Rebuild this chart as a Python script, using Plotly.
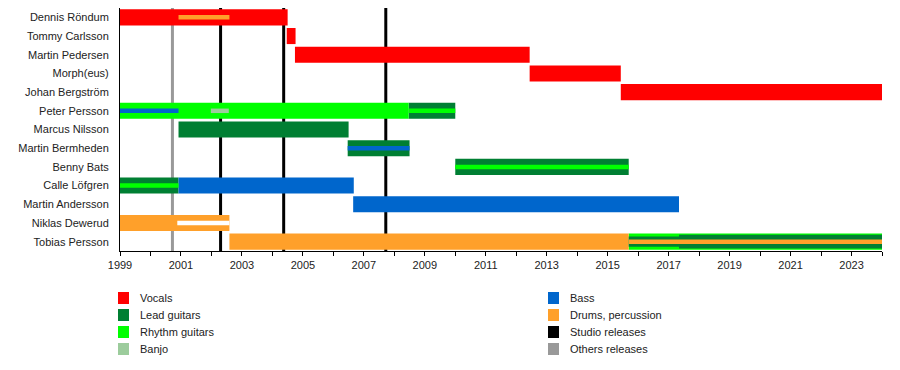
import plotly.graph_objects as go

# ---------------- data ----------------
members = [
    "Dennis Röndum", "Tommy Carlsson", "Martin Pedersen", "Morph(eus)",
    "Johan Bergström", "Peter Persson", "Marcus Nilsson", "Martin Bermheden",
    "Benny Bats", "Calle Löfgren", "Martin Andersson", "Niklas Dewerud",
    "Tobias Persson",
]

roles = ["Vocals", "Lead guitars", "Rhythm guitars", "Banjo", "Bass",
         "Drums, percussion", "Spacer"]

seg_member = [
    "Dennis Röndum", "Dennis Röndum",
    "Tommy Carlsson",
    "Martin Pedersen",
    "Morph(eus)",
    "Johan Bergström",
    "Peter Persson", "Peter Persson", "Peter Persson", "Peter Persson", "Peter Persson",
    "Marcus Nilsson",
    "Martin Bermheden", "Martin Bermheden",
    "Benny Bats", "Benny Bats",
    "Calle Löfgren", "Calle Löfgren", "Calle Löfgren",
    "Martin Andersson",
    "Niklas Dewerud", "Niklas Dewerud",
    "Tobias Persson", "Tobias Persson", "Tobias Persson", "Tobias Persson",
    "Tobias Persson", "Tobias Persson", "Tobias Persson",
]
seg_role = [
    "Vocals", "Drums, percussion",
    "Vocals",
    "Vocals",
    "Vocals",
    "Vocals",
    "Rhythm guitars", "Bass", "Banjo", "Lead guitars", "Rhythm guitars",
    "Lead guitars",
    "Lead guitars", "Bass",
    "Lead guitars", "Rhythm guitars",
    "Lead guitars", "Rhythm guitars", "Bass",
    "Bass",
    "Drums, percussion", "Spacer",
    "Drums, percussion", "Rhythm guitars", "Lead guitars", "Drums, percussion",
    "Rhythm guitars", "Lead guitars", "Drums, percussion",
]
seg_start = [
    1999.0, 2000.92,
    2004.47,
    2004.74,
    2012.44,
    2015.43,
    1999.0, 1999.0, 2001.98, 2008.47, 2008.47,
    2000.92,
    2006.47, 2006.47,
    2010.0, 2010.0,
    1999.0, 1999.0, 2000.92,
    2006.65,
    1999.0, 2000.88,
    2002.59, 2015.69, 2015.69, 2015.69,
    2017.34, 2017.34, 2017.34,
]
seg_end = [
    2004.5, 2002.59,
    2004.76,
    2012.44,
    2015.43,
    2024.0,
    2008.47, 2000.92, 2002.57, 2010.0, 2010.0,
    2006.5,
    2008.5, 2008.5,
    2015.69, 2015.69,
    2000.92, 2000.92, 2006.67,
    2017.34,
    2002.59, 2002.59,
    2015.69, 2017.34, 2017.34, 2017.34,
    2024.0, 2024.0, 2024.0,
]
# primary role = "main", secondary roles drawn inside the bar
seg_kind = [
    "main", "thin",
    "main",
    "main",
    "main",
    "main",
    "main", "thin", "thin", "main", "thin",
    "main",
    "main", "thin",
    "main", "thin",
    "main", "thin", "main",
    "main",
    "main", "thin",
    "main", "main", "mid", "thin",
    "main", "wide", "thin",
]

studio_releases = [2002.30, 2004.37, 2007.72]
other_releases = [2000.72]

year_ticks = list(range(1999, 2025))
year_labels = [str(y) if y % 2 == 1 else "" for y in year_ticks]

legend_left = ["Vocals", "Lead guitars", "Rhythm guitars", "Banjo"]
legend_right = ["Bass", "Drums, percussion", "Studio releases", "Others releases"]

# ---------------- styles ----------------
colors = {
    "Vocals": "#ff0000",
    "Lead guitars": "#007f33",
    "Rhythm guitars": "#00ff00",
    "Banjo": "#9ccc9c",
    "Bass": "#0066cc",
    "Drums, percussion": "#ffa02a",
    "Spacer": "#ffffff",
    "Studio releases": "#000000",
    "Others releases": "#999999",
}
kind_width = {"main": 0.86, "wide": 0.74, "mid": 0.55, "thin": 0.24}
kind_order = ["main", "wide", "mid", "thin"]
FONT = "Liberation Sans, Arial, sans-serif"
TXT = "#222222"

OFF = 8  # page body margin offset
W, H = 900, 370
L = 120 - OFF
T = 8 - OFF
R = W - (882 - OFF)
B = H - (251 - OFF)
PW, PH = W - L - R, H - T - B


def px_to_paper(px, py):
    # px, py given in window coordinates
    return (px - OFF - L) / PW, (H - B - (py - OFF)) / PH


fig = go.Figure()
row_index = {m: i for i, m in enumerate(members)}

for kind in kind_order:
    for role in roles:
        idx = [i for i in range(len(seg_member))
               if seg_kind[i] == kind and seg_role[i] == role]
        if not idx:
            continue
        fig.add_trace(go.Bar(
            orientation="h",
            y=[row_index[seg_member[i]] for i in idx],
            base=[seg_start[i] for i in idx],
            x=[seg_end[i] - seg_start[i] for i in idx],
            width=kind_width[kind],
            marker=dict(color=colors[role], line=dict(width=0)),
            showlegend=False,
            hoverinfo="skip",
        ))

# release lines
for xv in other_releases:
    fig.add_shape(type="line", xref="x", yref="paper", x0=xv, x1=xv, y0=0, y1=1,
                  line=dict(color=colors["Others releases"], width=3), layer="below")
for xv in studio_releases:
    fig.add_shape(type="line", xref="x", yref="paper", x0=xv, x1=xv, y0=0, y1=1,
                  line=dict(color=colors["Studio releases"], width=3), layer="below")

# legend (two columns)
row_y = [298, 315, 332, 349]
for col_x, labels in ((118, legend_left), (548, legend_right)):
    for ry, lab in zip(row_y, labels):
        x0, y0 = px_to_paper(col_x, ry - 6)
        x1, y1 = px_to_paper(col_x + 11, ry + 6)
        fig.add_shape(type="rect", xref="paper", yref="paper",
                      x0=x0, x1=x1, y0=y1, y1=y0,
                      fillcolor=colors[lab], line=dict(width=0))
        tx, ty = px_to_paper(col_x + 20, ry)
        fig.add_annotation(xref="paper", yref="paper", x=tx, y=ty, text=lab,
                           showarrow=False, xanchor="left", yanchor="middle",
                           font=dict(family=FONT, size=11, color=TXT))

fig.update_layout(
    width=W, height=H,
    margin=dict(l=L, r=R, t=T, b=B, autoexpand=False),
    barmode="overlay",
    plot_bgcolor="white", paper_bgcolor="white",
    font=dict(family=FONT, size=11, color=TXT),
    xaxis=dict(
        range=[1999, 2024], tickmode="array", tickvals=year_ticks, ticktext=year_labels,
        ticks="outside", ticklen=4, tickcolor="black", tickwidth=1,
        showline=True, linecolor="black", linewidth=1,
        showgrid=False, zeroline=False, automargin=False,
        tickfont=dict(family=FONT, size=11, color=TXT),
    ),
    yaxis=dict(
        range=[len(members) - 0.5, -0.5], tickmode="array",
        tickvals=list(range(len(members))), ticktext=members,
        ticks="", showline=True, linecolor="black", linewidth=1,
        showgrid=False, zeroline=False, ticklabelstandoff=8, automargin=False,
        tickfont=dict(family=FONT, size=11, color=TXT),
    ),
)

fig.write_html("out.html")
